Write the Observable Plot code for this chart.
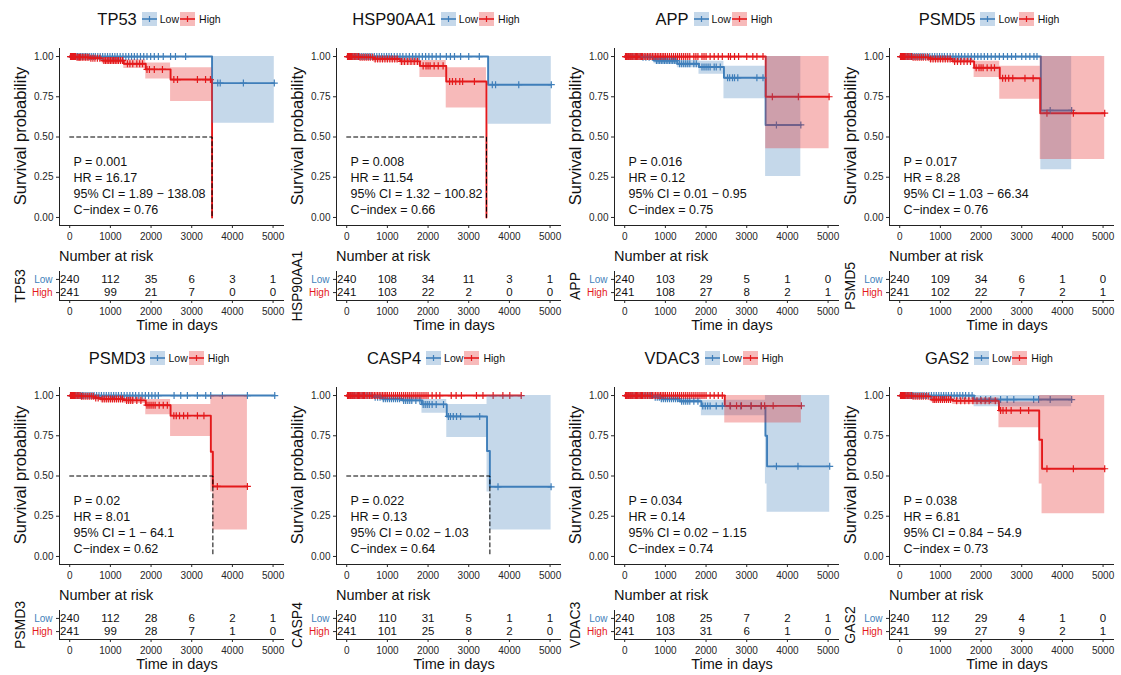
<!DOCTYPE html>
<html><head><meta charset="utf-8">
<script src="https://cdn.jsdelivr.net/npm/d3@7"></script>
<script src="https://cdn.jsdelivr.net/npm/@observablehq/plot@0.6"></script>
<style>
body{margin:0;background:#fff;font-family:"Liberation Sans",Arial,Helvetica,sans-serif;color:#111;}
#root{position:relative;width:1121px;height:675px;overflow:hidden;background:#fff;}
.abs{position:absolute;white-space:nowrap;}
.rot{position:absolute;transform:translate(-50%,-50%) rotate(-90deg);white-space:nowrap;}
</style></head>
<body><div id="root"></div>
<script>
// ---------- DATA ----------
const genes = ["TP53","HSP90AA1","APP","PSMD5","PSMD3","CASP4","VDAC3","GAS2"];
const groups = ["Low","High"];
const riskTimes = [0,1000,2000,3000,4000,5000];
const xTicks = [0,1000,2000,3000,4000,5000];
const yTicks = [0,0.25,0.5,0.75,1];

// step data: [time, survival, lower CI, upper CI]
const TP53_low = [[0,1,1,1],[3500,0.835,0.585,1],[5030,0.835,0.585,1]];
const TP53_high = [[0,1,1,1],[150,0.995,0.985,1],[500,0.99,0.975,1],[800,0.975,0.955,0.99],[1330,0.955,0.925,0.98],[1870,0.92,0.86,0.96],[2480,0.857,0.72,0.93],[3500,0,0,0]];
const TP53_lowCens = [30,70,110,150,190,230,270,310,350,390,430,480,530,580,630,690,750,810,870,930,990,1050,1110,1170,1240,1310,1380,1450,1520,1590,1660,1740,1820,1900,1990,2080,2180,2300,2480,2600,2850,3640,3700,4270,5030];
const TP53_highCens = [20,45,70,95,120,145,180,210,240,270,310,350,390,430,470,520,570,620,680,740,840,880,920,960,1000,1040,1080,1120,1160,1200,1250,1300,1420,1480,1550,1650,1720,1790,1900,1960,2080,2280,2560,2650,3140,3340,3460];
const TP53_riskLow = [240,112,35,6,3,1];
const TP53_riskHigh = [241,99,21,7,0,0];
const TP53_stats = ["P = 0.001","HR = 16.17","95% CI = 1.89 \u2212 138.08","C\u2212index = 0.76"];

const HSP90AA1_low = [[0,1,1,1],[3477,0.825,0.58,1],[5030,0.825,0.58,1]];
const HSP90AA1_high = [[0,1,1,1],[300,0.995,0.985,1],[665,0.985,0.965,0.995],[1313,0.97,0.945,0.985],[1800,0.942,0.87,0.975],[2447,0.845,0.68,0.93],[3436,0,0,0]];
const HSP90AA1_lowCens = [30,70,110,150,190,230,270,320,370,420,470,520,570,620,680,740,800,860,920,980,1040,1100,1170,1240,1310,1380,1460,1540,1620,1700,1780,1860,1940,2020,2100,2200,2300,2450,2550,2650,2800,3000,3260,3580,3660,4230,5030];
const HSP90AA1_highCens = [20,45,70,95,120,150,180,210,250,290,330,380,430,480,530,580,640,700,760,820,880,940,1000,1060,1120,1180,1240,1350,1420,1500,1580,1660,1740,1880,1950,2000,2050,2150,2250,2370,2530,2600,2680,2780,2850,3140];
const HSP90AA1_riskLow = [240,108,34,11,3,1];
const HSP90AA1_riskHigh = [241,103,22,2,0,0];
const HSP90AA1_stats = ["P = 0.008","HR = 11.54","95% CI = 1.32 \u2212 100.82","C\u2212index = 0.66"];

const APP_low = [[0,1,1,1],[400,0.995,0.99,1],[720,0.975,0.955,0.99],[1295,0.955,0.93,0.975],[1826,0.935,0.89,0.97],[2440,0.868,0.737,0.94],[3464,0.575,0.255,1],[4330,0.575,0.255,1]];
const APP_high = [[0,1,1,1],[3467,0.75,0.427,1],[5025,0.75,0.427,1]];
const APP_lowCens = [50,100,150,200,260,320,380,450,520,600,680,780,820,860,900,940,980,1020,1060,1100,1140,1180,1220,1260,1350,1400,1450,1500,1550,1600,1700,1760,1900,1950,2000,2050,2100,2200,2250,2350,2530,2580,2650,2700,2780,3250,3400,3730,4330];
const APP_highCens = [20,40,60,80,100,125,150,175,200,230,260,290,320,350,380,410,440,480,520,560,600,640,680,720,760,800,840,880,920,960,1000,1050,1100,1150,1200,1250,1300,1350,1400,1450,1500,1550,1600,1700,1750,1800,1900,1950,2000,2100,2200,2300,2400,2550,2600,2700,2800,3000,3150,3250,3400,3630,4270,5025];
const APP_riskLow = [240,103,29,5,1,0];
const APP_riskHigh = [241,108,27,8,2,1];
const APP_stats = ["P = 0.016","HR = 0.12","95% CI = 0.01 \u2212 0.95","C\u2212index = 0.75"];

const PSMD5_low = [[0,1,1,1],[3470,0.665,0.297,1],[4228,0.665,0.297,1]];
const PSMD5_high = [[0,1,1,1],[300,0.995,0.985,1],[730,0.985,0.965,0.995],[1300,0.97,0.955,0.985],[1830,0.93,0.87,0.97],[2460,0.865,0.735,0.94],[3455,0.648,0.36,1],[5040,0.648,0.36,1]];
const PSMD5_lowCens = [30,70,110,150,190,230,270,320,370,420,470,520,570,620,680,740,800,860,920,980,1040,1100,1170,1240,1310,1380,1450,1520,1600,1680,1760,1840,1920,2000,2080,2160,2250,2350,2450,2550,2650,2750,2850,3000,3100,3200,3300,3375,3700,4228];
const PSMD5_highCens = [20,45,70,95,120,150,180,210,250,290,330,380,430,480,530,580,640,700,760,820,880,940,1000,1060,1120,1180,1240,1350,1420,1500,1580,1660,1740,1880,1950,2000,2050,2150,2250,2330,2530,2600,2680,2780,3080,3280,3620,4270,5040];
const PSMD5_riskLow = [240,109,34,6,1,0];
const PSMD5_riskHigh = [241,102,22,7,2,1];
const PSMD5_stats = ["P = 0.017","HR = 8.28","95% CI = 1.03 \u2212 66.34","C\u2212index = 0.76"];

const PSMD3_low = [[0,1,1,1],[5041,1,1,1]];
const PSMD3_high = [[0,1,1,1],[280,0.995,0.985,1],[600,0.985,0.97,0.995],[760,0.978,0.96,0.99],[1340,0.97,0.95,0.985],[1870,0.94,0.88,0.975],[2480,0.875,0.745,0.945],[3470,0.651,0.4,1],[3520,0.435,0.165,1],[4369,0.435,0.165,1]];
const PSMD3_lowCens = [30,70,110,150,190,230,270,310,350,400,450,500,550,600,660,720,780,840,900,960,1020,1080,1140,1200,1270,1340,1410,1480,1550,1620,1700,1780,1860,1940,2020,2100,2180,2566,2730,2893,3139,3344,3467,3754,4369,5041];
const PSMD3_highCens = [20,45,70,95,120,150,180,210,250,290,330,380,430,480,530,580,640,700,800,850,900,950,1000,1050,1100,1150,1200,1250,1300,1400,1450,1500,1550,1650,1750,1900,1950,2000,2050,2100,2200,2300,2400,2560,2620,2700,2800,2900,3140,3300,3630,4369];
const PSMD3_riskLow = [240,112,28,6,2,1];
const PSMD3_riskHigh = [241,99,28,7,1,0];
const PSMD3_stats = ["P = 0.02","HR = 8.01","95% CI = 1 \u2212 64.1","C\u2212index = 0.62"];

const CASP4_low = [[0,1,1,1],[670,0.99,0.98,1],[870,0.98,0.965,0.99],[1360,0.97,0.955,0.985],[1850,0.945,0.89,0.975],[2460,0.87,0.74,0.945],[3450,0.655,0.4,1],[3520,0.433,0.165,1],[5025,0.433,0.165,1]];
const CASP4_high = [[0,1,1,1],[4290,1,1,1]];
const CASP4_lowCens = [50,100,150,200,260,320,380,450,520,600,700,760,820,900,950,1000,1050,1100,1150,1200,1250,1300,1400,1450,1500,1550,1600,1700,1800,1880,1930,1980,2030,2100,2200,2380,2500,2550,2620,2700,2800,3270,3720,5025];
const CASP4_highCens = [20,40,60,80,100,125,150,175,200,230,260,290,320,350,380,410,440,480,520,560,600,640,680,720,760,800,840,880,920,960,1000,1050,1100,1150,1200,1250,1300,1350,1400,1450,1500,1550,1600,1650,1700,1750,1800,1850,1900,1950,2000,2100,2200,2290,2570,2690,2820,3190,3350,3600,3840,4010,4290];
const CASP4_riskLow = [240,110,31,5,1,1];
const CASP4_riskHigh = [241,101,25,8,2,0];
const CASP4_stats = ["P = 0.022","HR = 0.13","95% CI = 0.02 \u2212 1.03","C\u2212index = 0.64"];

const VDAC3_low = [[0,1,1,1],[700,0.99,0.98,1],[900,0.98,0.965,0.99],[1350,0.965,0.95,0.98],[1885,0.935,0.875,0.97],[3460,0.75,0.45,1],[3500,0.56,0.275,1],[5040,0.56,0.275,1]];
const VDAC3_high = [[0,1,1,1],[2460,0.936,0.83,1],[4344,0.936,0.83,1]];
const VDAC3_lowCens = [50,100,150,200,260,320,380,450,520,600,660,750,800,850,900,950,1000,1050,1100,1150,1200,1250,1300,1400,1450,1500,1550,1600,1700,1800,1920,1980,2040,2100,2250,2400,2600,2850,3100,3350,3730,4260,5040];
const VDAC3_highCens = [20,40,60,80,100,125,150,175,200,230,260,290,320,350,380,410,440,480,520,560,600,640,680,720,760,800,840,880,920,960,1000,1050,1100,1150,1200,1250,1300,1350,1400,1450,1500,1550,1600,1650,1700,1750,1800,1850,1900,1950,2000,2100,2200,2300,2400,2590,2750,2870,3110,3360,3440,3650,4344];
const VDAC3_riskLow = [240,108,25,7,2,1];
const VDAC3_riskHigh = [241,103,31,6,1,0];
const VDAC3_stats = ["P = 0.034","HR = 0.14","95% CI = 0.02 \u2212 1.15","C\u2212index = 0.74"];

const GAS2_low = [[0,1,1,1],[1830,0.975,0.93,1],[4228,0.975,0.93,1]];
const GAS2_high = [[0,1,1,1],[300,0.995,0.985,1],[773,0.975,0.96,0.99],[1300,0.968,0.945,0.985],[2440,0.907,0.8,0.96],[3430,0.725,0.45,1],[3500,0.545,0.265,1],[5040,0.545,0.265,1]];
const GAS2_lowCens = [30,70,110,150,190,230,270,310,350,400,450,500,550,600,660,720,780,840,900,960,1020,1080,1140,1200,1270,1340,1410,1480,1550,1620,1700,1780,1990,2114,2236,2480,2642,2805,3293,3415,3700,4228];
const GAS2_highCens = [20,45,70,95,120,150,180,210,250,290,330,380,430,480,530,580,640,700,820,860,900,950,1000,1050,1100,1150,1200,1250,1400,1500,1600,1700,1800,1900,2000,2100,2200,2350,2480,2540,2620,2740,2970,3170,3620,4270,5040];
const GAS2_riskLow = [240,112,29,4,1,0];
const GAS2_riskHigh = [241,99,27,9,2,1];
const GAS2_stats = ["P = 0.038","HR = 6.81","95% CI = 0.84 \u2212 54.9","C\u2212index = 0.73"];

// median survival time (dashed line) where reached; null otherwise
const medianTimes = [3500, 3436, null, null, 3520, 3520, null, null];

// ---------- TABLES FOR THE LIBRARY ----------
const lowCurves = [TP53_low,HSP90AA1_low,APP_low,PSMD5_low,PSMD3_low,CASP4_low,VDAC3_low,GAS2_low];
const highCurves = [TP53_high,HSP90AA1_high,APP_high,PSMD5_high,PSMD3_high,CASP4_high,VDAC3_high,GAS2_high];
const lowCensors = [TP53_lowCens,HSP90AA1_lowCens,APP_lowCens,PSMD5_lowCens,PSMD3_lowCens,CASP4_lowCens,VDAC3_lowCens,GAS2_lowCens];
const highCensors = [TP53_highCens,HSP90AA1_highCens,APP_highCens,PSMD5_highCens,PSMD3_highCens,CASP4_highCens,VDAC3_highCens,GAS2_highCens];
const riskLows = [TP53_riskLow,HSP90AA1_riskLow,APP_riskLow,PSMD5_riskLow,PSMD3_riskLow,CASP4_riskLow,VDAC3_riskLow,GAS2_riskLow];
const riskHighs = [TP53_riskHigh,HSP90AA1_riskHigh,APP_riskHigh,PSMD5_riskHigh,PSMD3_riskHigh,CASP4_riskHigh,VDAC3_riskHigh,GAS2_riskHigh];
const statsList = [TP53_stats,HSP90AA1_stats,APP_stats,PSMD5_stats,PSMD3_stats,CASP4_stats,VDAC3_stats,GAS2_stats];

// ---------- STYLE / LAYOUT ----------
const BLUE = "#3f7fba", RED = "#e4191c";
const FONT = '"Liberation Sans", Arial, Helvetica, sans-serif';
const xDomain = [-251, 5281];
const panelLefts = [0, 277, 555, 830];
const rowTops = [0, 339];
const root = document.getElementById("root");

function survAt(steps, t) {
  let s = steps[0][1];
  for (const d of steps) { if (d[0] <= t) s = d[1]; else break; }
  return s;
}

function addDiv(html, cls, css) {
  const el = document.createElement("div");
  el.className = cls;
  el.innerHTML = html;
  Object.assign(el.style, css);
  root.appendChild(el);
  return el;
}

function keySvg(color) {
  return `<svg width="15" height="14" style="display:block"><rect x="0" y="0" width="15" height="14" fill="${color}" fill-opacity="0.3"/>` +
    `<line x1="0" x2="15" y1="7" y2="7" stroke="${color}" stroke-width="1.6"/><line x1="7.5" x2="7.5" y1="4" y2="10" stroke="${color}" stroke-width="1.2"/></svg>`;
}

genes.forEach((gene, i) => {
  const pl = panelLefts[i % 4];
  const top = rowTops[Math.floor(i / 4)];
  const curves = [lowCurves[i], highCurves[i]];
  const cens = [lowCensors[i], highCensors[i]];
  const colors = [BLUE, RED];

  // title + legend
  addDiv(`<span style="font-size:16.5px;margin-right:5px">${gene}</span>${keySvg(BLUE)}<span style="font-size:10.5px;margin:0 1px 0 3px">Low</span>${keySvg(RED)}<span style="font-size:10.5px;margin-left:4px">High</span>`,
    "abs", {left: (pl + 9) + "px", top: (top + 8) + "px", width: "300px", height: "22px", display: "flex", justifyContent: "center", alignItems: "center"});

  const marks = [];
  curves.forEach((steps, k) => {
    marks.push(Plot.line(steps, {x: d => d[0], y: d => d[1], curve: "step-after", stroke: colors[k], strokeWidth: 1.9}));
  });
  curves.forEach((steps, k) => {
    marks.push(Plot.dot(cens[k], {x: t => t, y: t => survAt(steps, t), symbol: "plus", r: 2.4, stroke: colors[k], strokeWidth: 1.2}));
  });
  curves.forEach((steps, k) => {
    marks.push(Plot.areaY(steps, {x: d => d[0], y1: d => d[2], y2: d => d[3], curve: "step-after", fill: colors[k], fillOpacity: 0.3}));
  });
  const m = medianTimes[i];
  if (m != null) {
    marks.push(Plot.line([[0, 0.5], [m, 0.5], [m, 0]], {x: d => d[0], y: d => d[1], stroke: "#000", strokeWidth: 1, strokeDasharray: "4,3"}));
  }
  marks.push(Plot.text([statsList[i].join("\n")], {frameAnchor: "bottom-left", textAnchor: "start", lineAnchor: "bottom", dx: 14, dy: -12, lineHeight: 1.28, fontSize: 12.5, fill: "#111"}));
  marks.push(Plot.ruleX([xDomain[0]], {stroke: "#222", strokeWidth: 1}));
  marks.push(Plot.ruleY([-0.05], {stroke: "#222", strokeWidth: 1}));
  marks.push(Plot.axisX({ticks: xTicks, tickFormat: d3.format("d"), tickSize: 3, tickPadding: 4, label: null, fontSize: 10}));
  marks.push(Plot.axisY({ticks: yTicks, tickFormat: d3.format(".2f"), tickSize: 3, tickPadding: 3, label: null, fontSize: 10}));

  const km = Plot.plot({
    width: 290, height: 207, marginLeft: 59, marginRight: 6, marginTop: 8, marginBottom: 22,
    x: {domain: xDomain}, y: {domain: [-0.05, 1.05]},
    style: {fontFamily: FONT, fontSize: "10px", color: "#262626", background: "transparent", overflow: "visible"},
    marks
  });
  km.style.position = "absolute";
  km.style.left = pl + "px";
  km.style.top = (top + 40) + "px";
  root.appendChild(km);

  addDiv("Survival probability", "rot", {left: (pl + 20) + "px", top: (top + 136) + "px", fontSize: "16.5px"});
  addDiv("Number at risk", "abs", {left: (pl + 59) + "px", top: (top + 247) + "px", fontSize: "14.5px", lineHeight: "18px"});

  // risk table
  const rows = [];
  riskTimes.forEach((t, j) => {
    rows.push({t, g: 1, n: riskLows[i][j]});
    rows.push({t, g: 2, n: riskHighs[i][j]});
  });
  const labels = groups.map((l, j) => ({g: j + 1, l, c: colors[j]}));
  const rt = Plot.plot({
    width: 290, height: 57, marginLeft: 59, marginRight: 6, marginTop: 6, marginBottom: 22,
    x: {domain: xDomain}, y: {domain: [2.6, 0.4]},
    style: {fontFamily: FONT, fontSize: "10px", color: "#262626", background: "transparent", overflow: "visible"},
    marks: [
      Plot.text(rows, {x: "t", y: "g", text: d => String(d.n), fontSize: 11.5, fill: "#111"}),
      Plot.text(labels, {x: () => xDomain[0], y: "g", text: "l", fill: d => d.c, textAnchor: "end", dx: -7, fontSize: 10}),
      Plot.ruleX([xDomain[0]], {stroke: "#222", strokeWidth: 1}),
      Plot.ruleY([2.6], {stroke: "#222", strokeWidth: 1}),
      Plot.axisX({ticks: xTicks, tickFormat: d3.format("d"), tickSize: 3, tickPadding: 4, label: null, fontSize: 10}),
      Plot.axisY({ticks: [1, 2], tickFormat: () => "", tickSize: 3, label: null})
    ]
  });
  rt.style.position = "absolute";
  rt.style.left = pl + "px";
  rt.style.top = (top + 265) + "px";
  root.appendChild(rt);

  addDiv(gene, "rot", {left: (pl + 20) + "px", top: (top + 286) + "px", fontSize: "14px"});
  addDiv("Time in days", "abs", {left: (pl + 177) + "px", top: (top + 316) + "px", fontSize: "14.5px", lineHeight: "18px", transform: "translateX(-50%)"});
});
</script>
</body></html>
